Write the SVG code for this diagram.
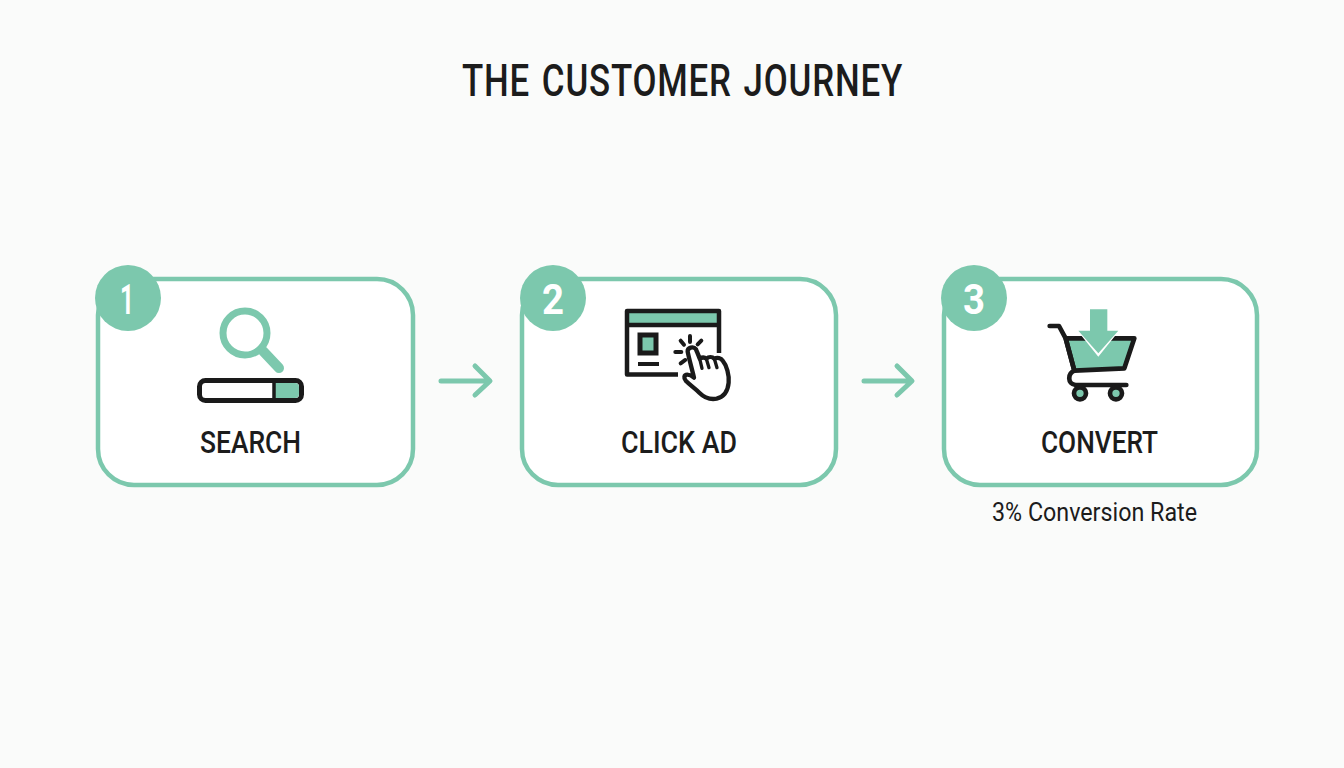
<svg xmlns="http://www.w3.org/2000/svg" width="1344" height="768" viewBox="0 0 1344 768">
<style>
.card{fill:#fff;stroke:#7cc8ad;stroke-width:4.500}
.badge{fill:#7cc8ad}
.num{font-family:"Roboto",sans-serif;font-weight:700;font-size:43px;fill:#fff}
.lbl{font-family:"Roboto",sans-serif;font-weight:500;font-size:32px;fill:#1c1c1c}
.ink{fill:none;stroke:#1a1a1a;stroke-linecap:round;stroke-linejoin:round}
.conn{fill:none;stroke:#7cc8ad;stroke-width:5;stroke-linecap:round;stroke-linejoin:round}
</style>
<rect width="1344" height="768" fill="#fafbfa"/>
<text id="title" x="462" y="96" font-family="Roboto,sans-serif" font-weight="500" font-size="44" letter-spacing="1" word-spacing="3" fill="#1c1c1c" textLength="441" lengthAdjust="spacingAndGlyphs">THE CUSTOMER JOURNEY</text>
<g id="connectors">
<path class="conn" d="M441 381H489M475 366L490 381L475 395"/>
<path class="conn" d="M864 381H911M897 366L912 381L897 395"/>
</g>
<g id="node-search">
<rect class="card" x="98" y="279" width="315" height="206" rx="36"/>
<circle class="badge" cx="128" cy="298" r="33"/>
<text class="num" x="120" y="314" textLength="14" lengthAdjust="spacingAndGlyphs">1</text>
<circle cx="245" cy="333" r="22" fill="none" stroke="#7cc8ad" stroke-width="7"/>
<path d="M263 351L279 368" stroke="#7cc8ad" stroke-width="10" stroke-linecap="round"/>
<rect x="199.500" y="380.500" width="102" height="20" rx="6" fill="#fff" stroke="#1a1a1a" stroke-width="5"/>
<path d="M274 383H295a4 4 0 0 1 4 4V394a4 4 0 0 1-4 4H274Z" fill="#7cc8ad"/>
<path d="M274 380V401" stroke="#1a1a1a" stroke-width="3.500"/>
<text class="lbl" x="200" y="453" textLength="101" lengthAdjust="spacingAndGlyphs">SEARCH</text>
</g>
<g id="node-click">
<rect class="card" x="522" y="279" width="314" height="206" rx="36"/>
<circle class="badge" cx="553" cy="298" r="33"/>
<text class="num" x="542" y="314" textLength="22" lengthAdjust="spacingAndGlyphs">2</text>
<rect x="627" y="312" width="92" height="11" fill="#7cc8ad"/>
<path d="M678 374.500H627V311H719V353M627 325H719" fill="none" stroke="#1a1a1a" stroke-width="4.500" stroke-linejoin="round"/>
<rect x="640" y="335" width="16" height="18" fill="#7cc8ad" stroke="#1a1a1a" stroke-width="5"/>
<path d="M638 364H659" stroke="#1a1a1a" stroke-width="4"/>
<g transform="translate(610 300) scale(.3333)">
<path class="ink" stroke-width="12" d="M240 108V126M212 122L222 134M274 122L263 133M196 156H214M212 190L226 180"/>
<path d="M233 155C232 143 250 137 258 148C262 158 266 167 269 176C276 172 284 172 289 176C296 170 307 170 313 176C322 172 333 174 338 182C350 196 358 225 356 248C354 270 345 290 320 296C298 300 282 292 268 278C255 265 240 255 228 243C220 234 222 224 232 224C240 224 246 228 252 233C246 207 238 180 233 155Z" fill="#fff" stroke="#1a1a1a" stroke-width="13" stroke-linejoin="round"/>
<path class="ink" stroke-width="10" d="M269 176L276 205M289 176L297 203M313 176L321 203"/>
</g>
<text class="lbl" x="621" y="453" textLength="116" lengthAdjust="spacingAndGlyphs">CLICK AD</text>
</g>
<g id="node-convert">
<rect class="card" x="944" y="279" width="313" height="206" rx="36"/>
<circle class="badge" cx="974" cy="298" r="33"/>
<text class="num" x="963" y="314" textLength="22" lengthAdjust="spacingAndGlyphs">3</text>
<g transform="translate(1035 300) scale(.3333)">
<path d="M92 115H298L268 205L118 212Z" fill="#7cc8ad" stroke="#1a1a1a" stroke-width="14" stroke-linejoin="round"/>
<path class="ink" stroke-width="14" d="M44 78H72L92 115L118 212C98 220 96 252 122 255H274"/>
<path d="M165 28H217V93H252L190 170L128 93H165Z" fill="#fff"/>
<path d="M165 28H217V92H250L190 160L130 92H165Z" fill="#7cc8ad"/>
<circle cx="135" cy="280" r="18" fill="#7cc8ad" stroke="#1a1a1a" stroke-width="14"/>
<circle cx="243" cy="280" r="18" fill="#7cc8ad" stroke="#1a1a1a" stroke-width="14"/>
</g>
<text class="lbl" x="1041" y="453" textLength="117" lengthAdjust="spacingAndGlyphs">CONVERT</text>
<text x="992" y="521" font-family="Roboto,sans-serif" font-size="25" fill="#1c1c1c" textLength="205" lengthAdjust="spacingAndGlyphs">3% Conversion Rate</text>
</g>
</svg>
